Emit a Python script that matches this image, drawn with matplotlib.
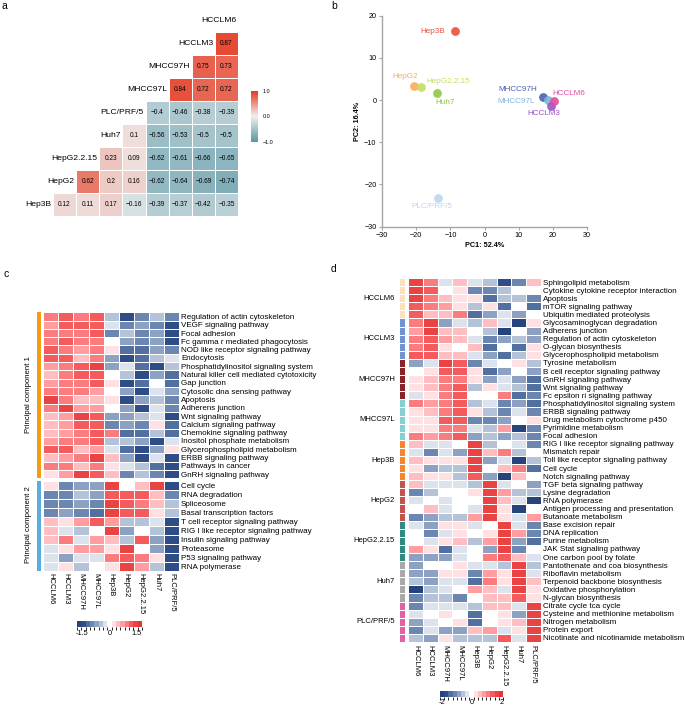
import matplotlib

matplotlib.use("Agg")
import matplotlib.pyplot as plt
import numpy as np
from matplotlib.cm import ScalarMappable
from matplotlib.colors import BoundaryNorm, LinearSegmentedColormap, ListedColormap

plt.rcParams["font.family"] = ["Liberation Sans", "DejaVu Sans"]

# ---------------- panel a: correlation between cell lines ----------------
corr_lines = ["Hep3B", "HepG2", "HepG2.2.15", "Huh7", "PLC/PRF/5",
              "MHCC97L", "MHCC97H", "HCCLM3", "HCCLM6"]
corr_hep3b = [0.12, 0.11, 0.17, -0.16, -0.39, -0.37, -0.42, -0.35]
corr_hepg2 = [0.62, 0.2, 0.16, -0.62, -0.64, -0.69, -0.74]
corr_hepg2215 = [0.23, 0.09, -0.62, -0.61, -0.66, -0.65]
corr_huh7 = [0.1, -0.56, -0.53, -0.5, -0.5]
corr_plc = [-0.4, -0.46, -0.38, -0.39]
corr_97l = [0.84, 0.72, 0.72]
corr_97h = [0.75, 0.73]
corr_lm3 = [0.87]

# ---------------- panel b: PCA ----------------
pca_lines = ["Hep3B", "HepG2", "HepG2.2.15", "Huh7", "PLC/PRF/5",
             "MHCC97H", "MHCC97L", "HCCLM3", "HCCLM6"]
pc1 = [-8.6, -20.6, -18.5, -13.8, -13.5, 17.2, 18.6, 19.4, 20.2]
pc2 = [16.3, 3.4, 3.1, 1.8, -23.2, 0.7, 0.0, -1.4, -0.2]
pca_colors = ["#E8503C", "#F9AE5A", "#C8DC5E", "#8DC93F", "#BCD5EE",
              "#4862B0", "#7DB5E0", "#9A52C2", "#E24B9E"]

# ---------------- panel c: pathways by principal component ----------------
cell_columns = ["HCCLM6", "HCCLM3", "MHCC97H", "MHCC97L", "Hep3B",
                "HepG2", "HepG2.2.15", "Huh7", "PLC/PRF/5"]
pc1_pathways = [
    "Regulation of actin cytoskeleton", "VEGF signaling pathway", "Focal adhesion",
    "Fc gamma r mediated phagocytosis", "NOD like receptor signaling pathway",
    "Endocytosis", "Phosphatidylinositol signaling system",
    "Natural killer cell mediated cytotoxicity", "Gap junction",
    "Cytosolic dna sensing pathway", "Apoptosis", "Adherens junction",
    "Wnt signaling pathway", "Calcium signaling pathway", "Chemokine signaling pathway",
    "Inositol phosphate metabolism", "Glycerophospholipid metabolism",
    "ERBB signaling pathway", "Pathways in cancer", "GnRH signaling pathway"]
pc1_scores = [
    [1.0, 1.3, 1.0, 1.3, -0.5, -1.5, -1.0, -0.5, -1.0],
    [0.7, 1.3, 1.3, 1.3, -0.2, -1.0, -0.8, -1.0, -1.5],
    [1.0, 1.0, 1.0, 1.3, -1.0, -0.4, -1.0, -0.7, -1.5],
    [1.0, 1.3, 1.0, 1.0, 0.0, -0.7, -0.9, -0.7, -1.5],
    [1.3, 1.0, 0.8, 1.0, 0.2, -1.2, -1.2, -0.7, -1.0],
    [1.3, 1.3, 0.4, 1.0, -0.7, -1.5, -1.2, -0.4, -0.2],
    [0.7, 1.0, 1.3, 1.5, -0.7, -0.2, -1.2, -1.5, -0.4],
    [0.4, 1.0, 1.3, 1.3, 0.0, -0.4, -1.5, -0.7, -1.2],
    [0.7, 1.0, 1.0, 1.3, 0.2, -1.5, -1.2, 0.0, -1.2],
    [1.0, 1.0, 1.0, 0.7, 0.0, -0.7, -1.5, -0.2, -0.7],
    [1.5, 1.0, 0.4, 0.4, 0.2, -1.5, -0.7, -0.4, -1.0],
    [1.0, 1.5, 0.7, 0.7, 0.0, -0.7, -1.5, -0.2, -1.0],
    [0.4, 0.7, 1.5, 1.3, -0.7, -0.7, -0.4, -0.2, -1.5],
    [0.4, 0.7, 1.3, 1.3, -1.0, -0.7, -1.0, 0.2, -1.2],
    [0.4, 0.7, 1.0, 1.3, 0.9, -1.2, -1.2, -0.4, -1.2],
    [0.7, 1.0, 1.0, 1.3, -0.4, -0.4, -0.7, -1.5, -0.2],
    [1.3, 1.3, 0.4, 0.7, -0.2, -1.2, -1.5, -0.7, 0.2],
    [0.4, 0.7, 1.0, 1.5, 0.4, -0.7, -1.5, -0.2, -1.5],
    [1.0, 1.0, 0.4, 1.0, 0.2, -0.2, -0.4, -1.2, -1.5],
    [0.2, 0.7, 1.5, 1.3, 0.4, -1.0, -0.4, -1.0, -1.5]]
pc2_pathways = [
    "Cell cycle", "RNA degradation", "Spliceosome", "Basal transcription factors",
    "T cell receptor signaling pathway", "RIG I like receptor signaling pathway",
    "Insulin signaling pathway", "Proteasome", "P53 signaling pathway", "RNA polymerase"]
pc2_scores = [
    [0.2, -1.0, -0.7, -0.7, 1.5, 0.0, 0.4, 1.5, -1.5],
    [-1.0, -1.0, -0.4, -0.7, 1.3, 1.3, 1.3, 0.4, -1.0],
    [-1.0, -1.0, -0.7, -1.0, 1.5, 1.3, 1.0, 0.4, -0.4],
    [-1.0, -0.7, -1.0, -1.3, 1.5, 1.3, 1.3, 0.2, -0.4],
    [0.4, 0.2, 0.7, 1.3, 0.7, -0.4, -0.4, -0.2, -1.5],
    [0.4, -0.2, -0.4, 0.0, 1.5, -0.7, 0.0, -0.4, -1.5],
    [0.4, 1.0, -0.2, 0.7, 0.4, -0.4, 1.3, -0.7, -1.5],
    [-0.2, 0.2, 0.7, 0.7, 0.2, 1.5, 0.0, -0.7, -1.5],
    [-0.2, -0.7, -0.2, -0.2, 1.0, 1.3, 1.0, 0.2, -1.5],
    [-0.2, 0.2, -0.4, 0.0, 0.2, 1.5, 0.7, -0.4, -1.5]]

# ---------------- panel d: cell-line specific pathways ----------------
group_names = ["HCCLM6", "HCCLM3", "MHCC97H", "MHCC97L", "Hep3B",
               "HepG2", "HepG2.2.15", "Huh7", "PLC/PRF/5"]
group_colors = ["#FDDFBC", "#7193D1", "#862427", "#86D0D1", "#F7862F",
                "#C0554D", "#2F8A82", "#A8A8A8", "#E062A4"]
specific_pathways = [
    "Sphingolipid metabolism", "Cytokine cytokine receptor interaction", "Apoptosis",
    "mTOR signaling pathway", "Ubiquitin mediated proteolysis",
    "Glycosaminoglycan degradation", "Adherens junction", "Regulation of actin cytoskeleton",
    "O-glycan biosynthesis", "Glycerophospholipid metabolism",
    "Tyrosine metabolism", "B cell receptor signaling pathway", "GnRH signaling pathway",
    "Wnt signaling pathway", "Fc epsilon ri signaling pathway",
    "Phosphatidylinositol signaling system", "ERBB signaling pathway",
    "Drug metabolism cytochrome p450", "Pyrimidine metabolism", "Focal adhesion",
    "RIG I like receptor signaling pathway", "Mismatch repair",
    "Toll like receptor signaling pathway", "Cell cycle", "Notch signaling pathway",
    "TGF beta signaling pathway", "Lysine degradation", "RNA polymerase",
    "Antigen processing and presentation", "Butanoate metabolism",
    "Base excision repair", "DNA replication", "Purine metabolism",
    "JAK Stat signaling pathway", "One carbon pool by folate",
    "Pantothenate and coa biosynthesis", "Riboflavin metabolism",
    "Terpenoid backbone biosynthesis", "Oxidative phosphorylation", "N-glycan biosynthesis",
    "Citrate cycle tca cycle", "Cysteine and methionine metabolism",
    "Nitrogen metabolism", "Protein export", "Nicotinate and nicotinamide metabolism"]
specific_group = [0] * 5 + [1] * 5 + [2] * 5 + [3] * 5 + [4] * 5 + [5] * 5 + [6] * 5 + [7] * 5 + [8] * 5
specific_scores = [
    [1.6, 1.1, -0.25, 0.6, -0.25, -0.6, -1.6, -1.0, 0.5],
    [1.6, 1.3, 0.0, 0.25, -1.2, -1.1, -0.5, 0.0, 0.0],
    [1.6, 1.0, 0.6, 0.25, 0.3, -1.5, -0.6, -0.6, -1.0],
    [1.4, 1.0, 0.9, 0.3, -0.5, 0.3, -1.4, 0.0, -1.4],
    [1.4, 0.6, 0.6, 1.2, -1.4, -0.9, -0.25, -0.9, 0.0],
    [1.0, 1.6, -0.9, -0.25, -0.5, 0.5, -0.25, -2.0, 0.25],
    [0.9, 1.6, 0.6, 0.6, 0.0, -0.5, -2.0, 0.0, -0.8],
    [1.0, 1.3, 0.8, 0.6, -0.25, -1.2, -0.9, -0.5, -0.8],
    [1.0, 1.3, 0.25, 0.0, 0.5, -1.4, 0.0, -1.3, 0.25],
    [1.4, 1.3, 0.6, 0.6, -0.25, -0.9, -1.3, -0.5, 0.25],
    [-0.9, -0.25, 1.8, 1.5, -1.2, -0.25, 0.0, 0.25, -0.5],
    [0.0, 0.25, 1.5, 1.3, 0.25, -1.4, -0.9, 0.0, -0.8],
    [0.3, 0.5, 1.2, 1.0, 0.3, -0.8, -0.25, -0.8, -1.4],
    [0.3, 0.5, 1.2, 1.3, -0.5, 0.3, -0.25, -0.45, -1.4],
    [-0.25, 0.3, 1.2, 1.3, 0.0, 0.0, 1.0, -1.4, -1.0],
    [1.0, 0.9, 1.2, 1.3, -0.5, -0.25, -1.1, -0.8, -1.3],
    [0.3, 0.5, 1.2, 1.3, 0.25, -0.5, -1.2, -0.25, -1.0],
    [0.25, 0.3, 1.4, 1.4, -1.1, -1.1, -0.8, 0.0, 0.25],
    [0.3, 0.25, 1.0, 1.2, -0.25, -0.45, 0.9, -2.0, -1.2],
    [1.0, 0.9, 1.0, 1.3, -0.8, -0.5, -0.8, -0.5, -1.2],
    [0.6, -0.25, -0.25, 0.0, 1.8, -0.45, 0.0, -0.25, -1.1],
    [-0.25, -1.2, -0.25, -0.8, 1.8, 0.6, 1.0, -0.7, 0.0],
    [0.6, 0.25, 0.3, 0.3, 1.8, -0.8, -0.25, -1.9, -0.5],
    [0.25, -0.8, -0.5, -0.7, 1.6, 0.0, 0.6, 1.2, -1.5],
    [0.5, 0.3, 0.3, -0.5, 1.5, -0.8, -2.0, 0.5, 0.0],
    [0.5, -0.25, -0.25, -0.25, -0.5, 1.8, -0.25, 0.0, -0.9],
    [-1.2, -0.5, 0.0, 0.0, 0.25, 1.8, 0.9, -0.5, -0.5],
    [-0.25, 0.0, -0.25, 0.0, 0.0, 1.8, 0.5, -0.25, -2.0],
    [0.0, 0.5, -0.25, 0.0, -0.25, 1.8, 0.3, -1.9, 0.0],
    [-1.2, -0.8, -0.6, -0.6, 0.8, 1.6, 0.25, -0.25, 0.8],
    [-0.25, -0.8, 0.3, 0.3, -0.25, 0.0, 1.8, -0.25, -1.2],
    [0.0, -1.1, -0.25, 0.25, 0.0, 0.3, 1.8, 0.9, -1.1],
    [0.0, -0.25, 0.3, 0.5, -0.5, 0.9, 1.8, -0.8, -1.4],
    [0.9, 0.25, -1.4, -0.25, 0.0, -0.8, 1.6, -1.1, 0.0],
    [-0.8, -0.8, -0.8, -0.25, 0.0, 1.2, 1.5, 0.5, -0.25],
    [-0.8, 0.0, 0.0, 0.25, -0.25, -0.25, -0.5, 1.8, -0.5],
    [-0.8, -0.8, 0.25, 0.25, -1.2, 0.9, 0.25, 1.8, -0.25],
    [-0.5, -0.8, -0.25, -0.25, -1.5, 1.1, 0.25, 1.8, 0.5],
    [-2.0, -0.5, -0.25, 0.0, 0.8, 0.5, -0.25, 1.6, 0.25],
    [-1.1, -0.5, -0.5, -1.1, 0.0, 0.5, 0.5, 1.5, 0.3],
    [-1.1, -0.25, -0.25, -0.25, -0.5, 0.5, 0.5, -0.25, 1.8],
    [-0.25, 0.0, 0.25, 0.0, -1.5, 0.0, 0.25, -0.8, 1.8],
    [-0.9, -0.25, 0.0, 0.25, -1.5, 0.0, 0.25, 0.5, 1.8],
    [-1.1, -0.25, -0.8, -0.8, 0.5, 0.9, -0.25, 0.25, 1.8],
    [-0.5, -0.8, 0.25, -0.5, -0.5, -0.5, 1.5, -0.25, 1.8]]

W, H = 685, 707
fig = plt.figure(figsize=(W / 100, H / 100), dpi=100)


def px_axes(x0, y0, x1, y1):
    """Axes placed by pixel box (top-left origin)."""
    return fig.add_axes([x0 / W, 1 - y1 / H, (x1 - x0) / W, (y1 - y0) / H])


# stepped blue-white-red palette shared by the two pathway heatmaps
heat_colors = ["#27437B", "#2E4C86", "#52709F", "#6B86B0", "#8DA2C3", "#B5C3D9", "#DCE3ED",
               "#FFFFFF",
               "#FFE1E3", "#FFBFC2", "#FF9DA1", "#FB7C7F", "#F35B5D", "#EA4343", "#E33737"]
heat_cmap = ListedColormap(heat_colors)
norm_c = BoundaryNorm(np.linspace(-1.8, 1.8, 16), heat_cmap.N)
norm_d = BoundaryNorm(np.linspace(-2.1, 2.1, 16), heat_cmap.N)
LABEL_FS = 5.8

for letter, (x, y) in zip("abcd", [(1, 6), (331, 6), (3, 274), (331, 269)]):
    fig.text(x / W, 1 - y / H, letter, fontsize=7.5, ha="left", va="center")

# ---- a ----
n = len(corr_lines) - 1
corr = np.ma.masked_all((n, n))
for i, row in enumerate([corr_hep3b, corr_hepg2, corr_hepg2215, corr_huh7,
                         corr_plc, corr_97l, corr_97h, corr_lm3]):
    corr[i, i:] = row
corr_cmap = LinearSegmentedColormap.from_list("corr", ["#5A96A6", "#EFEFEF", "#E6341A"])
ax = px_axes(53, 31.7, 238, 216)
mesh = ax.pcolormesh(np.arange(n + 1), np.arange(n + 1), corr, cmap=corr_cmap,
                     vmin=-1, vmax=1, edgecolors="white", linewidth=0.4)
for i in range(n):
    for j in range(i, n):
        ax.text(j + 0.5, i + 0.5, f"{corr[i, j]:g}".replace("-", "\u2212"),
                ha="center", va="center", fontsize=4.7)
for i, name in enumerate(corr_lines):
    ax.text(i - 0.08, i + 0.5, name, ha="right", va="center", fontsize=6.1, clip_on=False)
ax.set_xlim(0, n)
ax.set_ylim(0, n)
ax.axis("off")
cax = px_axes(250.7, 90.7, 258.3, 141.7)
cb = fig.colorbar(mesh, cax=cax, ticks=[-1, 0, 1])
cb.outline.set_visible(False)
cb.ax.set_yticklabels(["\u22121.0", "0.0", "1.0"])
cb.ax.tick_params(labelsize=3.9, length=1.5, width=0.4, color="white", pad=1.5)

# ---- b ----
label_offsets = {  # (dx, dy) in pixels, ha
    "Hep3B": (-10, 0, "right"), "HepG2": (-9, 9, "center"),
    "HepG2.2.15": (5, 6, "left"), "Huh7": (8, -10, "center"),
    "PLC/PRF/5": (-7, -8, "center"), "MHCC97H": (-6, 8, "right"),
    "MHCC97L": (-13, -1, "right"), "HCCLM3": (-7, -7, "center"),
    "HCCLM6": (-1, 7, "left")}
ax = px_axes(382, 15.7, 587, 226.7)
for name, x, y, col in zip(pca_lines, pc1, pc2, pca_colors):
    ax.scatter(x, y, s=40, color=col, alpha=0.9, linewidths=0, zorder=3)
    dx, dy, ha = label_offsets[name]
    ax.annotate(name, (x, y), xytext=(dx, dy), textcoords="offset pixels",
                ha=ha, va="center", fontsize=5.9, color=col)
ax.set_xlim(-30, 30)
ax.set_ylim(-30, 20)
ax.set_xticks(np.arange(-30, 31, 10))
ax.set_yticks(np.arange(-30, 21, 10))
ax.set_xticklabels([str(v).replace("-", "\u2212") for v in range(-30, 31, 10)])
ax.set_yticklabels([str(v).replace("-", "\u2212") for v in range(-30, 21, 10)])
ax.spines[["top", "right"]].set_visible(False)
for side in ["left", "bottom"]:
    ax.spines[side].set_color("#A6A6A6")
    ax.spines[side].set_linewidth(1.0)
ax.tick_params(labelsize=5.2, length=2.5, width=0.8, color="#A6A6A6", pad=1.5)
ax.set_xlabel("PC1: 52.4%", fontsize=5.2, fontweight="bold", labelpad=2)
ax.set_ylabel("PC2: 16.4%", fontsize=5.2, fontweight="bold", labelpad=2)


def heat_block(box, scores, names, norm):
    arr = np.array(scores)
    rows = arr.shape[0]
    hx = px_axes(*box)
    hx.pcolormesh(np.arange(arr.shape[1] + 1), np.arange(rows + 1), arr, cmap=heat_cmap,
                  norm=norm, edgecolors="white", linewidth=0.6)
    hx.set_xlim(0, arr.shape[1])
    hx.set_ylim(rows, 0)
    hx.set_yticks(np.arange(rows) + 0.5)
    hx.set_yticklabels(names, fontsize=LABEL_FS)
    hx.yaxis.tick_right()
    hx.set_xticks([])
    hx.tick_params(length=0, pad=1.5)
    for s in hx.spines.values():
        s.set_visible(False)
    return hx


def column_labels(hx):
    hx.set_xticks(np.arange(len(cell_columns)) + 0.5)
    hx.set_xticklabels(cell_columns, rotation=270, fontsize=5.5)
    hx.tick_params(axis="x", length=0, pad=2)


def annot_bar(box, groups, colors, edge):
    bx = px_axes(*box)
    bx.pcolormesh([0, 1], np.arange(len(groups) + 1), np.array(groups)[:, None],
                  cmap=ListedColormap(colors), vmin=-0.5, vmax=len(colors) - 0.5,
                  edgecolors="white" if edge else "face", linewidth=0.5 if edge else 0)
    bx.set_xlim(0, 1)
    bx.set_ylim(len(groups), 0)
    bx.axis("off")
    return bx


# ---- c ----
pc_colors = ["#F39C12", "#5AAEDF"]
heat_block((43.3, 312.3, 179, 478.3), pc1_scores, pc1_pathways, norm_c)
hx = heat_block((43.3, 480.7, 179, 570.7), pc2_scores, pc2_pathways, norm_c)
column_labels(hx)
annot_bar((36.7, 312.3, 41, 478.3), [0] * len(pc1_pathways), pc_colors, False)
annot_bar((36.7, 480.7, 41, 570.7), [1] * len(pc2_pathways), pc_colors, False)
fig.text(29 / W, 1 - 395 / H, "Principal component 1", rotation=90,
         ha="center", va="center", fontsize=5.6)
fig.text(29 / W, 1 - 525 / H, "Principal component 2", rotation=90,
         ha="center", va="center", fontsize=5.6)
cax = px_axes(77, 621, 142, 626.5)
cb = fig.colorbar(ScalarMappable(norm=norm_c, cmap=heat_cmap), cax=cax,
                  orientation="horizontal", ticks=[-1.5, 0, 1.5])
cb.outline.set_visible(False)
cb.ax.set_xticklabels(["-1.5", "0", "1.5"])
cb.ax.tick_params(labelsize=5.3, length=0, pad=2.5)

# ---- d ----
hx = heat_block((408.3, 278, 540.7, 642), specific_scores, specific_pathways, norm_d)
column_labels(hx)
bx = annot_bar((399.3, 278, 405, 642), specific_group, group_colors, True)
for g, name in enumerate(group_names):
    rows = [i for i, k in enumerate(specific_group) if k == g]
    bx.text(-0.75, np.mean(rows) + 0.5, name, ha="right", va="center",
            fontsize=5.5, clip_on=False)
cax = px_axes(440, 690.5, 503, 696.5)
cb = fig.colorbar(ScalarMappable(norm=norm_d, cmap=heat_cmap), cax=cax,
                  orientation="horizontal", ticks=[-2, 0, 2])
cb.outline.set_visible(False)
cb.ax.set_xticklabels(["-2", "0", "2"])
cb.ax.tick_params(labelsize=5.3, length=0, pad=2)

fig.savefig("out.png", dpi=100)
